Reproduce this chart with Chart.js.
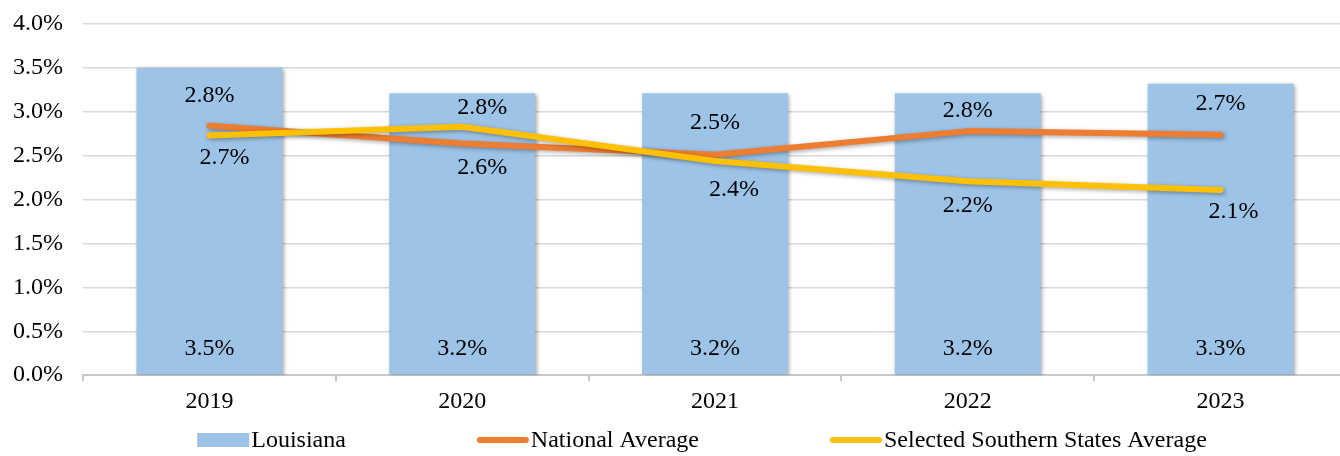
<!DOCTYPE html>
<html>
<head>
<meta charset="utf-8">
<script src="https://cdn.jsdelivr.net/npm/chart.js@4.4.1/dist/chart.umd.min.js"></script>
<style>
html,body{margin:0;padding:0;background:#fff;overflow:hidden;}
#wrap{width:1404px;height:456px;position:relative;}
</style>
</head>
<body>
<div id="wrap"><canvas id="myChart"></canvas></div>
<script>
// values (percent)
var years = ['2019', '2020', '2021', '2022', '2023']
var louisiana = [3.5, 3.21, 3.21, 3.21, 3.32]
var national = [2.84, 2.64, 2.51, 2.78, 2.74]
var southern = [2.73, 2.83, 2.44, 2.21, 2.11]
var seriesNames = ['Louisiana', 'National Average', 'Selected Southern States Average']

// where each line label sits relative to its point (dx, dy)
var nationalLabelPos = [[0, -30], [20, 24], [0, -32], [0, -20], [0, -31]]
var southernLabelPos = [[15, 22], [20, -19], [19, 29], [0, 25], [13, 22]]

var FONT = '"Liberation Serif", "Times New Roman", serif'
var FSIZE = 24

var shadowPlugin = {
	id: 'softShadow',
	beforeDatasetDraw: function(chart){
		var ctx = chart.ctx
		ctx.save()
		ctx.shadowColor = 'rgba(0,0,0,0.35)'
		ctx.shadowBlur = 4
		ctx.shadowOffsetX = 1.5
		ctx.shadowOffsetY = 1.5
	},
	afterDatasetDraw: function(chart){
		chart.ctx.restore()
	}
}

var labelPlugin = {
	id: 'valueLabels',
	afterDatasetsDraw: function(chart){
		var ctx = chart.ctx
		ctx.save()
		ctx.font = FSIZE + 'px ' + FONT
		ctx.fillStyle = '#000'
		ctx.textAlign = 'center'
		ctx.textBaseline = 'middle'
		chart.data.datasets.forEach(function(ds, i){
			var meta = chart.getDatasetMeta(i)
			meta.data.forEach(function(el, j){
				var txt = ds.data[j].toFixed(1) + '%'
				var x, y
				if(ds.type === 'bar'){
					x = el.x
					y = el.base - 26
				} else {
					var p = ds.labelPos[j]
					x = el.x + p[0]
					y = el.y + p[1]
				}
				ctx.fillText(txt, x, y)
			})
		})
		ctx.restore()
	}
}

var legendPlugin = {
	id: 'bottomLegend',
	afterDraw: function(chart){
		var ctx = chart.ctx
		ctx.save()
		ctx.font = FSIZE + 'px ' + FONT
		ctx.textBaseline = 'middle'
		ctx.textAlign = 'left'
		var swatch = 52, gap = 2, spacing = 131
		var ds = chart.data.datasets
		var total = 0
		ds.forEach(function(d, i){
			total += swatch + gap + ctx.measureText(d.label).width
			if(i < ds.length - 1) total += spacing
		})
		var x = chart.width / 2 - total / 2
		var y = 440
		ds.forEach(function(d){
			if(d.type === 'bar'){
				ctx.fillStyle = d.backgroundColor
				ctx.fillRect(x, y - 7, swatch, 14)
			} else {
				ctx.strokeStyle = d.borderColor
				ctx.lineWidth = 6
				ctx.lineCap = 'round'
				ctx.beginPath()
				ctx.moveTo(x + 3, y)
				ctx.lineTo(x + swatch - 3, y)
				ctx.stroke()
			}
			x += swatch + gap
			ctx.fillStyle = '#000'
			ctx.fillText(d.label, x, y + 1)
			x += ctx.measureText(d.label).width + spacing
		})
		ctx.restore()
	}
}

var ctx = document.getElementById('myChart').getContext('2d')

var chart = new Chart(ctx, {
	data: {
		labels: years,
		datasets: [
			{
				type: 'bar',
				label: seriesNames[0],
				data: louisiana,
				backgroundColor: '#9DC3E6',
				borderWidth: 0,
				barPercentage: 0.577,
				categoryPercentage: 1,
				order: 2
			},
			{
				type: 'line',
				label: seriesNames[1],
				data: national,
				borderColor: '#ED7D31',
				backgroundColor: '#ED7D31',
				borderWidth: 6,
				pointRadius: 0,
				borderCapStyle: 'round',
				borderJoinStyle: 'round',
				tension: 0,
				labelPos: nationalLabelPos,
				order: 1
			},
			{
				type: 'line',
				label: seriesNames[2],
				data: southern,
				borderColor: '#FFC000',
				backgroundColor: '#FFC000',
				borderWidth: 6,
				pointRadius: 0,
				borderCapStyle: 'round',
				borderJoinStyle: 'round',
				tension: 0,
				labelPos: southernLabelPos,
				order: 0
			}
		]
	},
	options: {
		responsive: true,
		maintainAspectRatio: false,
		animation: false,
		layout: { padding: { left: 0, right: 57, top: 24, bottom: 34 } },
		plugins: {
			legend: { display: false },
			tooltip: { enabled: false }
		},
		scales: {
			x: {
				grid: {
					offset: true,
					drawOnChartArea: false,
					tickLength: 6,
					color: '#C8C8C8',
					lineWidth: 2
				},
				border: { color: '#C8C8C8', width: 2 },
				ticks: {
					padding: 6,
					color: '#000',
					font: { family: FONT, size: FSIZE }
				}
			},
			y: {
				min: 0,
				max: 4,
				afterFit: function(scale){ scale.width = 83 },
				grid: {
					color: '#D9D9D9',
					lineWidth: 1.5,
					drawTicks: true,
					tickLength: 20,
					tickColor: 'rgba(0,0,0,0)'
				},
				border: { display: false },
				ticks: {
					stepSize: 0.5,
					padding: 0,
					color: '#000',
					font: { family: FONT, size: FSIZE },
					callback: function(v){ return v.toFixed(1) + '%' }
				}
			}
		}
	},
	plugins: [shadowPlugin, labelPlugin, legendPlugin]
})
</script>
</body>
</html>
